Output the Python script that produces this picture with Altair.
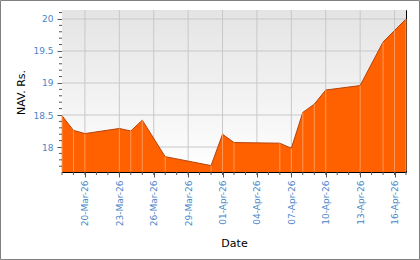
import altair as alt
import pandas as pd

dates = ["2026-03-18", "2026-03-19", "2026-03-20", "2026-03-23", "2026-03-24",
         "2026-03-25", "2026-03-27", "2026-03-31", "2026-04-01", "2026-04-02",
         "2026-04-06", "2026-04-07", "2026-04-08", "2026-04-09", "2026-04-10",
         "2026-04-13", "2026-04-15", "2026-04-16", "2026-04-17"]
navs = [18.49, 18.26, 18.21, 18.29, 18.25,
        18.42, 17.85, 17.71, 18.20, 18.07,
        18.06, 17.98, 18.54, 18.67, 18.89,
        18.96, 19.64, 19.82, 20.00]

major_x = ["2026-03-20", "2026-03-23", "2026-03-26", "2026-03-29", "2026-04-01",
           "2026-04-04", "2026-04-07", "2026-04-10", "2026-04-13", "2026-04-16"]
major_y = [18, 18.5, 19, 19.5, 20]
minor_y = [17.7, 17.8, 17.9, 18.1, 18.2, 18.3, 18.4, 18.6, 18.7, 18.8, 18.9,
           19.1, 19.2, 19.3, 19.4, 19.6, 19.7, 19.8, 19.9, 20.1]
minor_x = pd.date_range("2026-03-18", "2026-04-17", freq="D").strftime("%Y-%m-%d").tolist()

W, H = 344, 162
LABEL = "#4a86c8"
FONT = "DejaVu Sans"
GRID = "#c8c8c8"

df = pd.DataFrame({"date": dates, "nav": navs})

xscale = alt.Scale(type="utc",
                   domain=[alt.DateTime(year=2026, month=3, date=18, utc=True),
                           alt.DateTime(year=2026, month=4, date=17, utc=True)],
                   nice=False)
yscale = alt.Scale(domain=[17.61, 20.14], zero=False, nice=False)


def dt(s):
    y, m, d = (int(p) for p in s.split("-"))
    return alt.DateTime(year=y, month=m, date=d, utc=True)


xaxis = alt.Axis(values=[dt(s) for s in major_x],
                 format="%d-%b-%y", labelAngle=-90, labelFont=FONT, labelFontSize=9,
                 labelColor=LABEL, labelPadding=3, tickSize=5, tickColor="#555555",
                 domain=False, grid=False,
                 title="Date", titleFont=FONT, titleFontSize=11, titleFontWeight="normal",
                 titleColor="#000000", titleY=74, titleBaseline="alphabetic")
yaxis = alt.Axis(values=major_y, format=".3~r", labelFont=FONT, labelFontSize=9,
                 labelColor=LABEL, labelPadding=4, tickSize=5, tickColor="#555555",
                 domain=False, grid=False,
                 title="NAV. Rs.", titleFont=FONT, titleFontSize=11, titleFontWeight="normal",
                 titleColor="#000000", titleAngle=-90, titleX=-38, titleY=82,
                 titleBaseline="alphabetic", titleAlign="center")

gradient = alt.LinearGradient(
    gradient="linear", x1=0, y1=0, x2=0, y2=1,
    stops=[alt.GradientStop(color="#e4e4e4", offset=0),
           alt.GradientStop(color="#ffffff", offset=1)])

bg = alt.Chart(pd.DataFrame({"a": [0]})).mark_rect(fill=gradient).encode(
    x=alt.value(0), x2=alt.value(W), y=alt.value(0), y2=alt.value(H))

hgrid = alt.Chart(pd.DataFrame({"v": major_y})).mark_rule(color=GRID).encode(
    y=alt.Y("v:Q", scale=yscale, axis=yaxis), x=alt.value(0), x2=alt.value(W))

vgrid = alt.Chart(pd.DataFrame({"d": major_x})).mark_rule(color=GRID).encode(
    x=alt.X("d:T", scale=xscale, axis=xaxis), y=alt.value(0), y2=alt.value(H))

base = alt.Chart(df)

area = base.mark_area(color="#ff6000", fill="#ff6000", opacity=1, fillOpacity=1,
                      clip=True,
                      line={"color": "#b5440c", "strokeWidth": 1}).encode(
    x=alt.X("date:T", scale=xscale, axis=xaxis),
    y=alt.Y("nav:Q", scale=yscale, axis=yaxis),
)

drops = base.mark_rule(color="#ff9a5a", strokeWidth=1, opacity=1).encode(
    x=alt.X("date:T", scale=xscale, axis=xaxis),
    y=alt.Y("nav:Q", scale=yscale, axis=yaxis),
    y2=alt.value(H - 1),
)

xminor = alt.Chart(pd.DataFrame({"d": minor_x})).mark_rule(color="#555555").encode(
    x=alt.X("d:T", scale=xscale, axis=xaxis),
    y=alt.value(H),
    y2=alt.value(H + 3),
)

yminor = alt.Chart(pd.DataFrame({"v": minor_y})).mark_rule(color="#555555").encode(
    y=alt.Y("v:Q", scale=yscale, axis=yaxis),
    x=alt.value(-3),
    x2=alt.value(0),
)

frame = alt.Chart(pd.DataFrame({"a": [0]})).mark_rect(
    fillOpacity=0, stroke="#808080", strokeWidth=1).encode(
    x=alt.value(-61.5), x2=alt.value(357.5),
    y=alt.value(-9.5), y2=alt.value(249.5),
)

chart = alt.layer(bg, hgrid, vgrid, area, drops, xminor, yminor, frame).properties(
    width=W, height=H,
    autosize=alt.AutoSizeParams(type="none"),
    padding={"left": 62, "top": 10, "right": 14, "bottom": 88},
    background="#ffffff",
).configure_view(
    stroke="#000000", strokeWidth=1
)

chart.save("out.html", embed_options={"renderer": "svg", "actions": False})
